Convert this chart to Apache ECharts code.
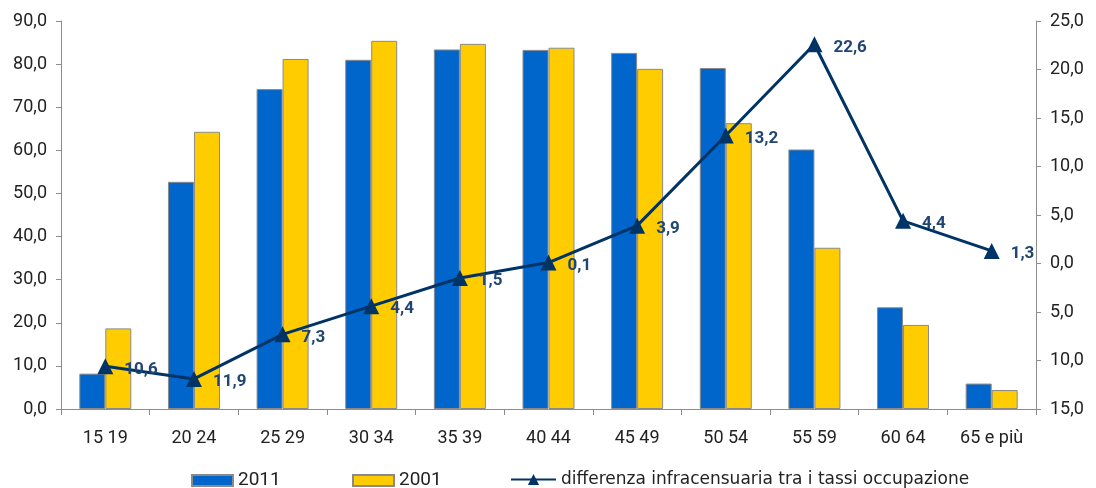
<!DOCTYPE html>
<html>
<head>
<meta charset="utf-8">
<script src="https://cdn.jsdelivr.net/npm/echarts@6/dist/echarts.min.js"></script>
<style>
  html, body { margin: 0; padding: 0; background: #fff; }
  #main { width: 1096px; height: 488px; }
</style>
</head>
<body>
<div id="main"></div>
<script>
// classi di età
var categories = ['15 19', '20 24', '25 29', '30 34', '35 39', '40 44', '45 49', '50 54', '55 59', '60 64', '65 e più'];
var tassi2011 = [8.2, 52.7, 74.2, 81.0, 83.4, 83.3, 82.6, 79.1, 60.2, 23.6, 5.9];
var tassi2001 = [18.7, 64.3, 81.2, 85.4, 84.7, 83.8, 78.9, 66.3, 37.4, 19.5, 4.4];
var differenza = [-10.6, -11.9, -7.3, -4.4, -1.5, 0.1, 3.9, 13.2, 22.6, 4.4, 1.3];

var fmt = function (v) {
  return Math.abs(v).toFixed(1).replace('.', ',');
};

var chart = echarts.init(document.getElementById('main'));

var axisStyle = {
  axisLine: { show: true, lineStyle: { color: '#8c8c8c', width: 1 } },
  axisTick: { show: true, length: 5, lineStyle: { color: '#8c8c8c' } },
  splitLine: { show: false },
  axisLabel: { color: '#222', fontSize: 18, fontFamily: 'Roboto', margin: 14, formatter: fmt }
};

var yearText = { color: '#222', fontSize: 19, fontFamily: 'Roboto' };
var lineText = { color: '#222', fontSize: 17, fontFamily: 'DejaVu Sans' };

var option = {
  animation: false,
  grid: { left: 61, right: 60, top: 21, bottom: 79 },
  legend: [
    { data: ['2011'], icon: 'rect', left: 191, top: 471, padding: 0, itemWidth: 41, itemHeight: 11, textStyle: yearText },
    { data: ['2001'], icon: 'rect', left: 352, top: 471, padding: 0, itemWidth: 41, itemHeight: 11, textStyle: yearText },
    { data: ['differenza infracensuaria tra i tassi occupazione'], left: 510, top: 471, padding: 0, itemWidth: 45, itemHeight: 14, textStyle: lineText }
  ],
  xAxis: {
    type: 'category',
    data: categories,
    axisLine: { lineStyle: { color: '#8c8c8c' } },
    axisTick: { show: true, length: 6, lineStyle: { color: '#8c8c8c' } },
    axisLabel: { color: '#222', fontSize: 18, fontFamily: 'Roboto', margin: 20 }
  },
  yAxis: [
    Object.assign({ type: 'value', min: 0, max: 90, interval: 10, position: 'left' }, axisStyle),
    Object.assign({ type: 'value', min: -15, max: 25, interval: 5, position: 'right' }, axisStyle)
  ],
  series: [
    {
      name: '2011',
      type: 'bar',
      data: tassi2011,
      barWidth: 26,
      barGap: '0%',
      itemStyle: { color: '#0066cc', borderColor: '#8a8a8a', borderWidth: 1 }
    },
    {
      name: '2001',
      type: 'bar',
      data: tassi2001,
      barWidth: 26,
      barGap: '0%',
      itemStyle: { color: '#ffcc00', borderColor: '#8a8a8a', borderWidth: 1 }
    },
    {
      name: 'differenza infracensuaria tra i tassi occupazione',
      type: 'line',
      yAxisIndex: 1,
      data: differenza,
      symbol: 'triangle',
      symbolSize: 16,
      lineStyle: { color: '#003366', width: 3 },
      itemStyle: { color: '#003366' },
      label: {
        show: true,
        position: 'right',
        distance: 11,
        offset: [0, 3],
        color: '#1f4673',
        fontSize: 17,
        fontWeight: 'bold',
        fontFamily: 'Roboto',
        formatter: function (p) { return fmt(p.value); }
      }
    }
  ]
};

chart.setOption(option);
</script>
</body>
</html>
